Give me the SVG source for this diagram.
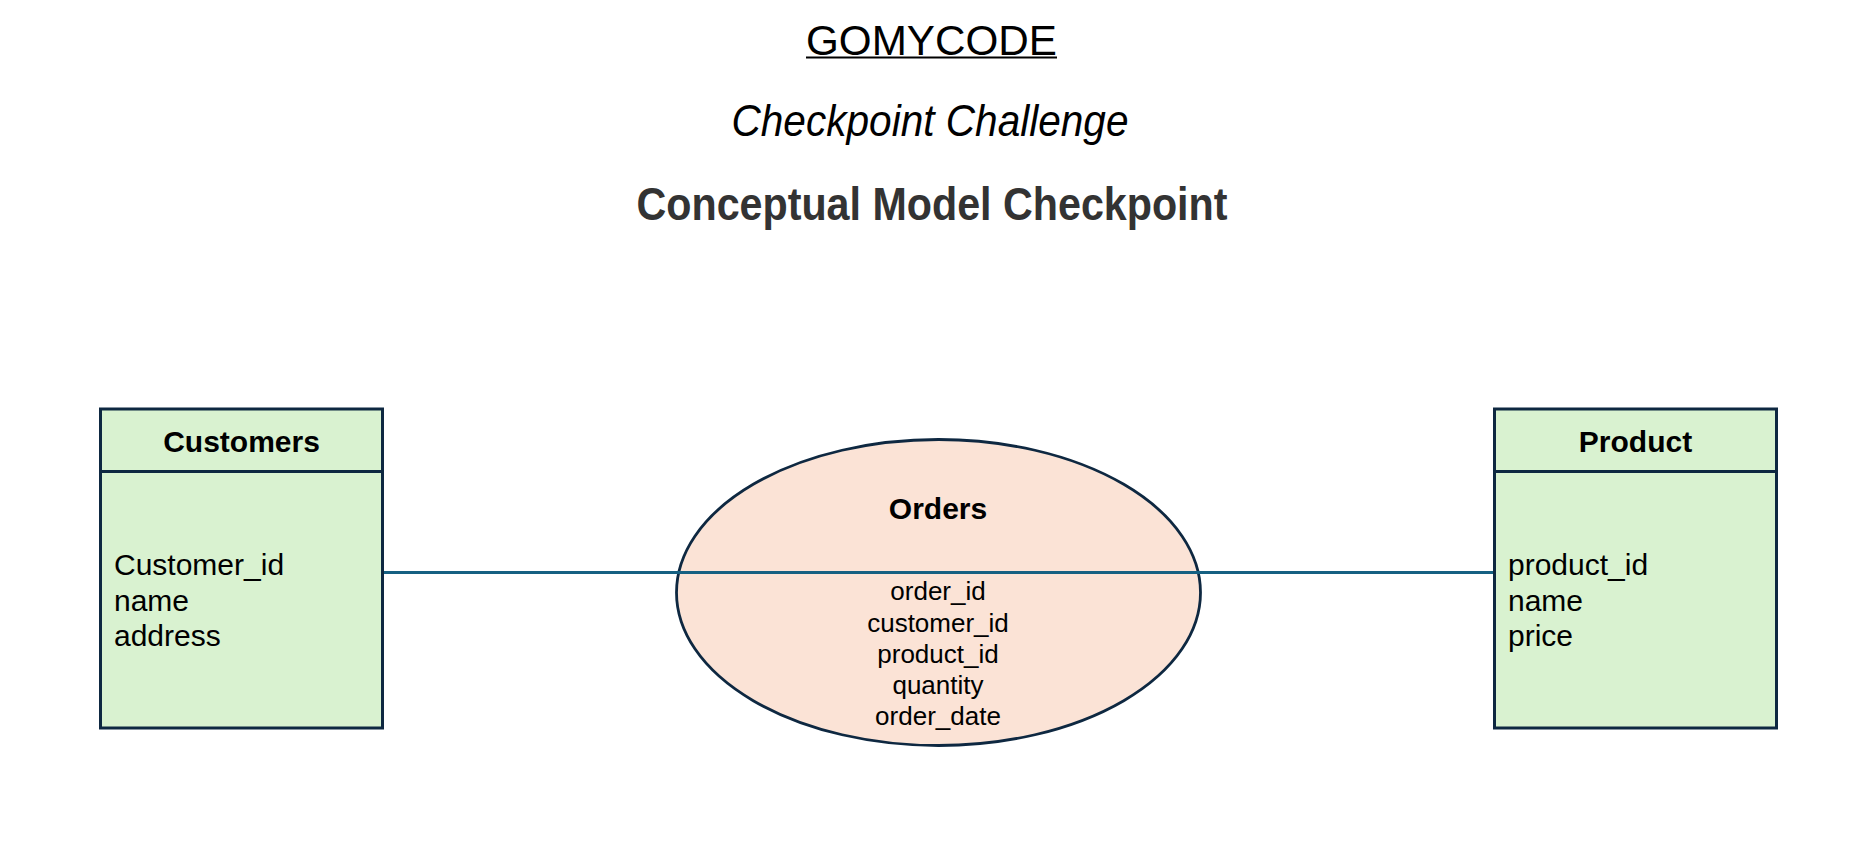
<svg xmlns="http://www.w3.org/2000/svg" width="1858" height="843" viewBox="0 0 1858 843">
<style>
.entity{fill:#D9F2D0;stroke:#0E2841;stroke-width:3}
.rel{fill:#FBE3D6;stroke:#0E2841;stroke-width:2.8}
.conn{stroke:#156082;stroke-width:2.8;fill:none}
.hdr{font-family:"Liberation Sans",Arial,sans-serif;font-weight:bold;font-size:30px;fill:#000}
.attr{font-family:"Liberation Sans",Arial,sans-serif;font-size:30px;fill:#000}
.oattr{font-family:"Liberation Sans",Arial,sans-serif;font-size:26px;fill:#000;text-anchor:middle}
.title{font-family:"Liberation Sans",Arial,sans-serif;text-anchor:middle}
</style>
<rect width="1858" height="843" fill="#fff"/>
<g id="titles">
<text class="title" x="931.5" y="54.5" font-size="42" textLength="251" lengthAdjust="spacingAndGlyphs" fill="#000">GOMYCODE</text>
<line x1="806" y1="57.5" x2="1057" y2="57.5" stroke="#000" stroke-width="2"/>
<text class="title" x="930" y="136" font-size="44" font-style="italic" textLength="397" lengthAdjust="spacingAndGlyphs" fill="#000">Checkpoint Challenge</text>
<text class="title" x="932" y="220" font-size="46" font-weight="bold" textLength="591" lengthAdjust="spacingAndGlyphs" fill="#333333">Conceptual Model Checkpoint</text>
</g>
<g id="customers">
<rect class="entity" x="100.5" y="409" width="282" height="319"/>
<line x1="100.5" y1="471.5" x2="382.5" y2="471.5" stroke="#0E2841" stroke-width="3"/>
<text class="hdr" x="241.5" y="451.5" text-anchor="middle">Customers</text>
<text class="attr" x="114" y="575">Customer_id</text>
<text class="attr" x="114" y="610.5">name</text>
<text class="attr" x="114" y="646">address</text>
</g>
<g id="product">
<rect class="entity" x="1494.5" y="409" width="282" height="319"/>
<line x1="1494.5" y1="471.5" x2="1776.5" y2="471.5" stroke="#0E2841" stroke-width="3"/>
<text class="hdr" x="1635.5" y="451.5" text-anchor="middle">Product</text>
<text class="attr" x="1508" y="575">product_id</text>
<text class="attr" x="1508" y="610.5">name</text>
<text class="attr" x="1508" y="646">price</text>
</g>
<g id="orders">
<ellipse class="rel" cx="938.5" cy="592.5" rx="262" ry="153"/>
<text class="hdr" x="938" y="519" text-anchor="middle" font-size="31">Orders</text>
<text class="oattr" x="938" y="600">order_id</text>
<text class="oattr" x="938" y="631.5">customer_id</text>
<text class="oattr" x="938" y="663">product_id</text>
<text class="oattr" x="938" y="694">quantity</text>
<text class="oattr" x="938" y="725">order_date</text>
</g>
<g id="connectors">
<line class="conn" x1="384" y1="572.5" x2="1493" y2="572.5"/>
</g>
</svg>
